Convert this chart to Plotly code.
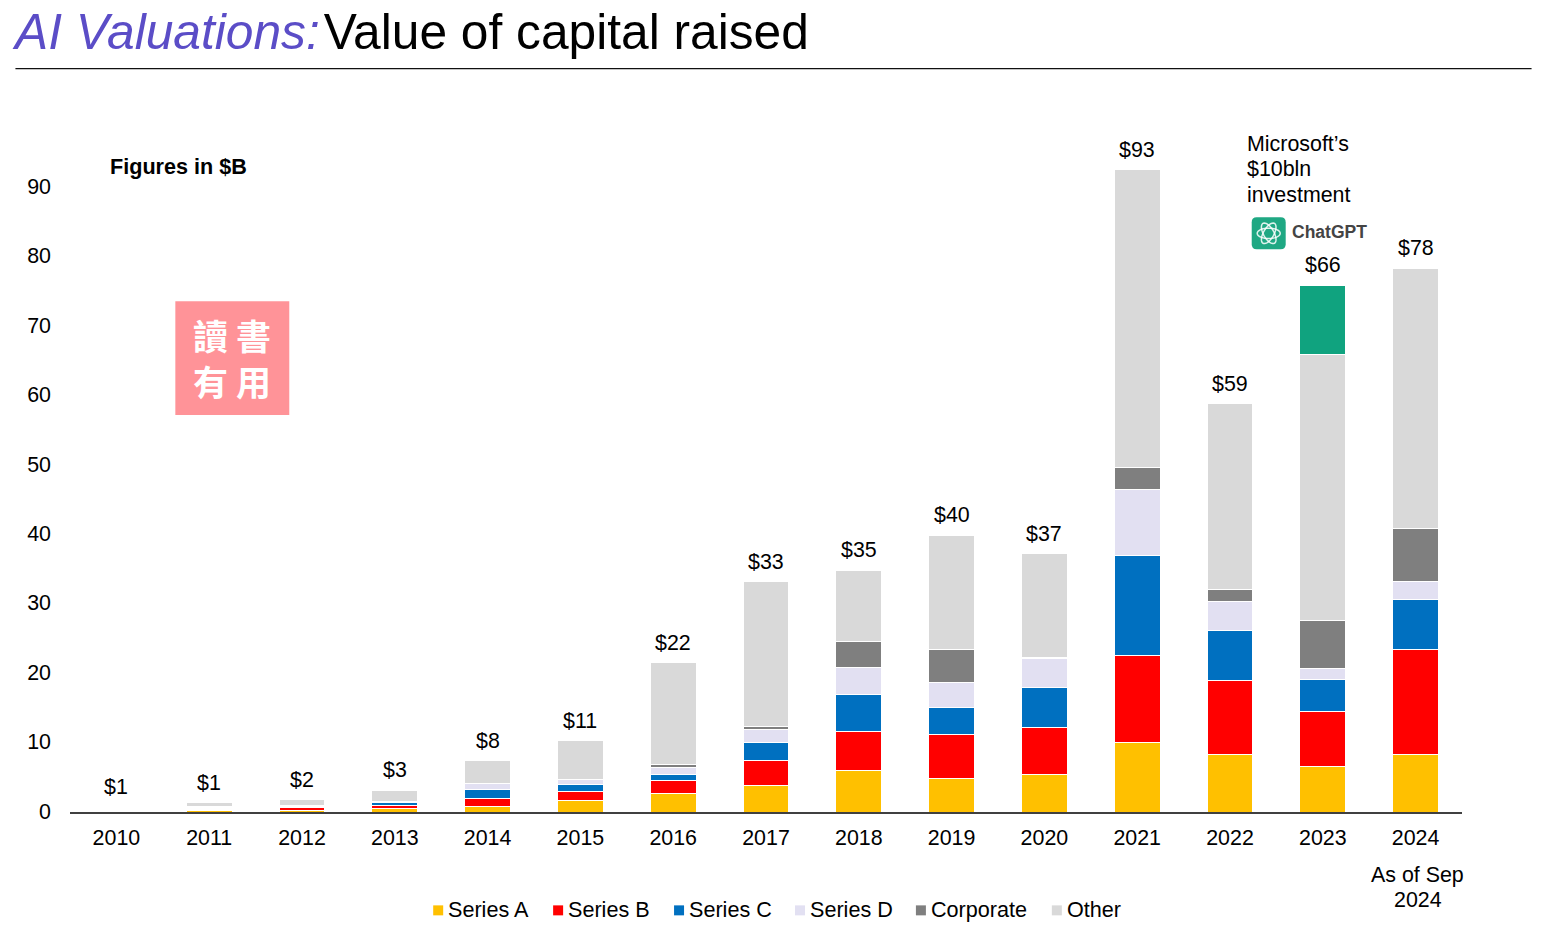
import numpy as np
import plotly.graph_objects as go

W, H = 1543, 936
FONT = "Liberation Sans"
FS = 21.4
L, R, T, B = 69.6, 1462.4, 117.5, 812.5

years = ["2010","2011","2012","2013","2014","2015","2016","2017","2018","2019","2020","2021","2022","2023","2024"]
series_a = [0.10,0.17,0.20,0.45,0.75,1.65,2.65,3.8,6.0,4.8,5.4,10.0,8.3,6.55,8.3]
series_b = [0.10,0.17,0.40,0.55,1.25,1.30,1.85,3.6,5.6,6.35,6.8,12.5,10.6,7.9,15.1]
series_c = [0.10,0.17,0.10,0.35,1.30,1.05,0.90,2.6,5.3,3.9,5.7,14.5,7.2,4.7,7.2]
series_d = [0.10,0.17,0.15,0.10,0.80,0.70,1.00,1.9,3.9,3.6,4.2,9.4,4.2,1.6,2.6]
corporate = [0.10,0.17,0.15,0.05,0.05,0.05,0.45,0.4,3.7,4.8,0.1,3.3,1.7,6.8,7.7]
other = [0.15,0.50,0.80,1.60,3.25,5.55,14.65,20.9,10.3,16.4,15.0,42.85,26.8,38.4,37.45]
chatgpt = [0,0,0,0,0,0,0,0,0,0,0,0,0,9.95,0]
total_labels = ["$1","$1","$2","$3","$8","$11","$22","$33","$35","$40","$37","$93","$59","$66","$78"]

names = ["Series A","Series B","Series C","Series D","Corporate","Other"]
colors = ["#FFC000","#FF0000","#0070C0","#E2E0F2","#7F7F7F","#D9D9D9"]
values = [series_a, series_b, series_c, series_d, corporate, other]
legend_left = [433, 553, 674, 795, 916, 1052]

fig = go.Figure()
for n, c, v in zip(names, colors, values):
    fig.add_bar(x=years, y=v, name=n, width=0.495, marker=dict(color=c, line=dict(color="white", width=1)), showlegend=False)
fig.add_bar(x=years, y=chatgpt, name="ChatGPT", width=0.495, marker=dict(color="#10A37F", line=dict(color="white", width=1)), showlegend=False)

tops = np.sum(values + [chatgpt], axis=0)

def px(x): return (x - L) / (R - L)
def py(y): return (B - y) / (B - T)

anns, shapes = [], []
for i, (top, txt) in enumerate(zip(tops, total_labels)):
    anns.append(dict(x=i, y=float(top), xref="x", yref="y", text=txt, showarrow=False, yanchor="middle", yshift=20,
                     font=dict(family=FONT, size=FS, color="black")))

def label(x, y, text, size=FS, color="black", anchor="left", bold=False, family=FONT):
    anns.append(dict(xref="paper", yref="paper", x=px(x - 2 if anchor == "left" else x), y=py(y),
                     text=f"<b>{text}</b>" if bold else text,
                     showarrow=False, xanchor=anchor, yanchor="middle", font=dict(family=family, size=size, color=color)))

for n, c, l in zip(names, colors, legend_left):
    shapes.append(dict(type="rect", xref="paper", yref="paper", x0=px(l), x1=px(l+10), y0=py(916), y1=py(906), fillcolor=c, line_width=0))
    label(l + 15, 910, n, size=21.6)

label(110, 166, "Figures in $B", bold=True, size=21.6)
for i, t in enumerate(["Microsoft’s", "$10bln", "investment"]):
    label(1247, 143.5 + 25.5 * i, t)
for i, t in enumerate(["As of Sep", "2024"]):
    label(1418, 876 + 25 * i, t, anchor="center")

# watermark
shapes.append(dict(type="rect", xref="paper", yref="paper", x0=px(175), x1=px(289), y0=py(415), y1=py(301), fillcolor="#FF9398", line_width=0))
label(232, 357, "讀 書<br>有 用", size=35, color="white", anchor="center", bold=True, family="Noto Sans CJK TC")

# ChatGPT logo
lx0, lx1, ly0, ly1, r = 1252, 1286, 217, 249, 5
shapes.append(dict(type="path", xref="paper", yref="paper", fillcolor="#1FA883", line_width=0,
    path=(f"M{px(lx0+r)},{py(ly0)} L{px(lx1-r)},{py(ly0)} Q{px(lx1)},{py(ly0)} {px(lx1)},{py(ly0+r)} "
          f"L{px(lx1)},{py(ly1-r)} Q{px(lx1)},{py(ly1)} {px(lx1-r)},{py(ly1)} L{px(lx0+r)},{py(ly1)} "
          f"Q{px(lx0)},{py(ly1)} {px(lx0)},{py(ly1-r)} L{px(lx0)},{py(ly0+r)} Q{px(lx0)},{py(ly0)} {px(lx0+r)},{py(ly0)} Z")))
t = np.linspace(0, 2 * np.pi, 40)
for ang in (0, 60, 120):
    a = np.radians(ang)
    ex, ey = 11.5 * np.cos(t), 5.2 * np.sin(t)
    xs = 1269 + ex * np.cos(a) - ey * np.sin(a)
    ys = 233 + ex * np.sin(a) + ey * np.cos(a)
    path = "M" + " L".join(f"{px(p)},{py(q)}" for p, q in zip(xs, ys)) + " Z"
    shapes.append(dict(type="path", xref="paper", yref="paper", path=path, line=dict(color="rgba(255,255,255,0.85)", width=1.5)))
label(1292, 232, "ChatGPT", size=17.5, color="#444444", bold=True)

# title rule
shapes.append(dict(type="line", xref="paper", yref="paper", x0=px(15), x1=px(1532), y0=py(68), y1=py(68), line=dict(color="#111111", width=1.3)))

fig.update_layout(
    width=W, height=H, barmode="stack", plot_bgcolor="white", paper_bgcolor="white",
    margin=dict(l=L, r=W - R, t=T, b=H - B, autoexpand=False),
    font=dict(family=FONT, size=FS, color="black"),
    title=dict(text='<i><span style="color:#5B4DC7">AI Valuations:</span></i><span style="font-size:14px">&nbsp;</span>Value of capital raised',
               x=15 / W, xanchor="left", xref="container", y=1 - 31.5 / H, yanchor="middle", yref="container",
               font=dict(family=FONT, size=49.7, color="black")),
    xaxis=dict(type="category", categoryorder="array", categoryarray=years, range=[-0.5, 14.5], showgrid=False,
               showline=True, linecolor="#404040", linewidth=2, ticks="", ticklabelstandoff=5,
               tickfont=dict(family=FONT, size=FS, color="black")),
    yaxis=dict(range=[0, 100], tickvals=list(range(0, 100, 10)), showgrid=False, zeroline=False, showline=False,
               ticks="", ticklabelstandoff=18, ticklabelshift=-1, tickfont=dict(family=FONT, size=FS, color="black")),
    annotations=anns, shapes=shapes,
)
fig.write_html("out.html", config={"displayModeBar": False},
               post_script="document.body.style.margin='0';document.body.style.overflow='hidden';")
